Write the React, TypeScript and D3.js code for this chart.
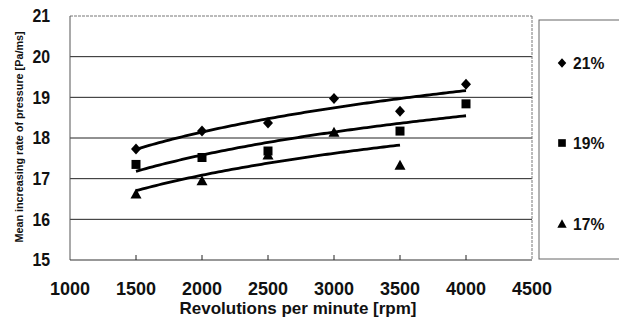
import React from "react";
import * as d3 from "d3";

const rpm = [1500, 2000, 2500, 3000, 3500, 4000];
const o21: (number | null)[] = [17.73, 18.17, 18.37, 18.97, 18.66, 19.32];
const o19: (number | null)[] = [17.35, 17.52, 17.68, null, 18.17, 18.84];
const o17: (number | null)[] = [16.62, 16.95, 17.58, 18.14, 17.33, null];
const seriesNames = ["21%", "19%", "17%"];
const xTicks = [1000, 1500, 2000, 2500, 3000, 3500, 4000, 4500];
const yTicks = [15, 16, 17, 18, 19, 20, 21];

const W = 619, H = 325;
const L = 70, R = 532, T = 16, B = 260;

const x = d3.scaleLinear().domain([1000, 4500]).range([L, R]);
const y = d3.scaleLinear().domain([15, 21]).range([B, T]);

type Shape = "diamond" | "square" | "triangle";

function markerPath(shape: Shape, cx: number, cy: number): string {
  const p = d3.path();
  if (shape === "diamond") {
    p.moveTo(cx, cy - 5.5); p.lineTo(cx + 5, cy); p.lineTo(cx, cy + 5.5); p.lineTo(cx - 5, cy); p.closePath();
  } else if (shape === "square") {
    p.rect(cx - 4.5, cy - 4.5, 9, 9);
  } else {
    p.moveTo(cx, cy - 5.5); p.lineTo(cx + 5.5, cy + 4.5); p.lineTo(cx - 5.5, cy + 4.5); p.closePath();
  }
  return p.toString();
}

function logFit(xs: number[], ys: (number | null)[]) {
  const pts = xs.map((v, i) => [Math.log(v), ys[i]] as [number, number | null]).filter(d => d[1] !== null) as [number, number][];
  const mx = d3.mean(pts, d => d[0])!;
  const my = d3.mean(pts, d => d[1])!;
  const sxy = d3.sum(pts, d => (d[0] - mx) * (d[1] - my));
  const sxx = d3.sum(pts, d => (d[0] - mx) ** 2);
  const a = sxy / sxx;
  const b = my - a * mx;
  return (v: number) => a * Math.log(v) + b;
}

const series = [
  { name: seriesNames[0], vals: o21, shape: "diamond" as Shape, end: 4000 },
  { name: seriesNames[1], vals: o19, shape: "square" as Shape, end: 4000 },
  { name: seriesNames[2], vals: o17, shape: "triangle" as Shape, end: 3500 },
];

const legendY = [63, 143, 224];

export default function App() {
  const font = "'Liberation Sans', Arial, sans-serif";
  const line = d3.line<[number, number]>().x(d => x(d[0])).y(d => y(d[1])).curve(d3.curveLinear);
  return (
    <div style={{ position: "fixed", left: 0, top: 0 }}>
      <svg width={W} height={H} style={{ display: "block", background: "#fff" }}>
        {yTicks.filter(t => t > 15 && t < 21).map(t => (
          <line key={t} x1={L} x2={R} y1={y(t)} y2={y(t)} stroke="#222" strokeWidth={1} />
        ))}
        <line x1={L} x2={R} y1={T} y2={T} stroke="#777" strokeWidth={1} strokeDasharray="3 1" />
        <line x1={R} x2={R} y1={T} y2={B} stroke="#777" strokeWidth={1} strokeDasharray="3 1" />
        <line x1={L} x2={L} y1={T} y2={B} stroke="#555" strokeWidth={1} />
        <line x1={L} x2={R} y1={B} y2={B} stroke="#333" strokeWidth={1.2} />
        {rpm.map(t => (
          <line key={t} x1={x(t)} x2={x(t)} y1={B} y2={B - 5} stroke="#222" strokeWidth={1} />
        ))}
        {yTicks.map(t => (
          <text key={t} x={50} y={y(t) + 6.5} textAnchor="end" fontFamily={font} fontWeight="bold" fontSize={18}
            transform={`translate(50,0) scale(0.88,1) translate(-50,0)`} fill="#111">{t}</text>
        ))}
        {xTicks.map(t => (
          <text key={t} x={x(t)} y={295} textAnchor="middle" fontFamily={font} fontWeight="bold" fontSize={18} fill="#111">{t}</text>
        ))}
        <text x={298} y={314} textAnchor="middle" fontFamily={font} fontWeight="bold" fontSize={17} fill="#111">Revolutions per minute [rpm]</text>
        <text transform="translate(23,137) rotate(-90)" textAnchor="middle" fontFamily={font} fontWeight="bold" fontSize={10.8} fill="#111">Mean increasing rate of pressure [Pa/ms]</text>
        {series.map(s => {
          const f = logFit(rpm, s.vals);
          const xs = d3.range(1500, s.end + 1, 25);
          const pts = xs.map(v => [v, f(v)] as [number, number]);
          return <path key={s.name} d={line(pts)!} fill="none" stroke="#000" strokeWidth={2.8} />;
        })}
        {[series[2], series[1], series[0]].map(s => (
          <g key={s.name}>
            {s.vals.map((v, i) => v === null ? null : (
              <path key={i} d={markerPath(s.shape, x(rpm[i]), y(v))} fill="#000" />
            ))}
          </g>
        ))}
        <rect x={539} y={20} width={100} height={239} fill="none" stroke="#666" strokeWidth={1} />
        {series.map((s, i) => (
          <g key={s.name}>
            <path d={markerPath(s.shape, 562, legendY[i])} fill="#000" transform={`translate(562,${legendY[i]}) scale(0.85) translate(-562,${-legendY[i]})`} />
            <text x={573} y={legendY[i] + 6} fontFamily={font} fontWeight="bold" fontSize={17} fill="#111"
              transform={`translate(573,0) scale(0.92,1) translate(-573,0)`}>{s.name}</text>
          </g>
        ))}
      </svg>
    </div>
  );
}
